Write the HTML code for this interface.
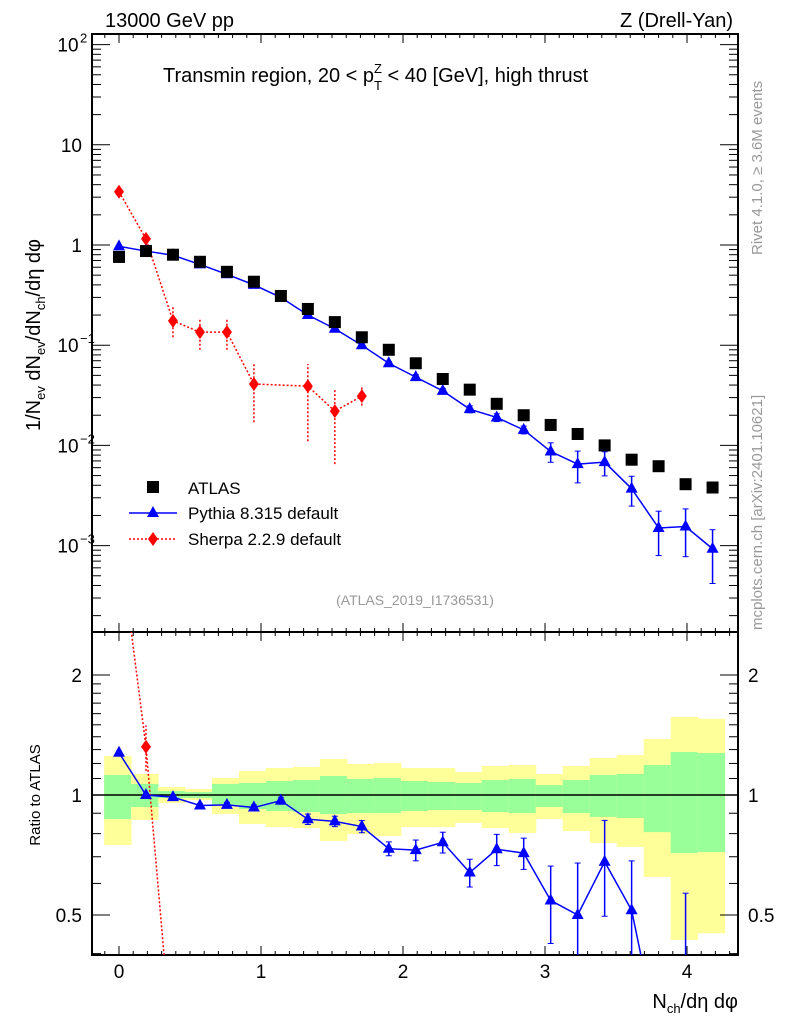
<!DOCTYPE html>
<html><head><meta charset="utf-8"><style>
html,body{margin:0;background:#fff;width:786px;height:1024px;overflow:hidden;position:relative}
svg{display:block;font-family:"Liberation Sans",sans-serif}
</style></head><body>
<svg id="c" width="786" height="1024" style="position:absolute;left:0;top:0" xmlns="http://www.w3.org/2000/svg"></svg>
<script>
const xs=[0,0.19,0.38,0.57,0.76,0.95,1.14,1.33,1.52,1.71,1.9,2.09,2.28,2.47,2.66,2.85,3.04,3.23,3.42,3.61,3.8,3.99,4.18];
const atlas=[0.76,0.87,0.80,0.68,0.54,0.43,0.31,0.23,0.17,0.12,0.09,0.066,0.046,0.036,0.026,0.020,0.016,0.013,0.010,0.0072,0.0062,0.0041,0.0038];
const pythia=[0.97,0.87,0.79,0.64,0.51,0.40,0.30,0.20,0.146,0.10,0.066,0.048,0.035,0.023,0.019,0.0143,0.0087,0.0065,0.0068,0.0037,0.0015,0.00155,0.00093];
const pythiaRelErr=[0.01,0.01,0.01,0.01,0.015,0.015,0.02,0.03,0.03,0.035,0.04,0.06,0.06,0.08,0.09,0.09,0.22,0.35,0.27,0.33,0.47,0.5,0.55];
const sherpaX=[0,0.19,0.38,0.57,0.76,0.95,1.33,1.52,1.71];
const sherpa=[3.4,1.15,0.175,0.135,0.135,0.041,0.039,0.022,0.031];
const sherpaLo=[3.2,1.0,0.12,0.09,0.09,0.017,0.011,0.0065,0.025];
const sherpaHi=[3.6,1.3,0.24,0.18,0.18,0.065,0.065,0.037,0.038];
const greenUp=[1.123,1.066,1.023,1.017,1.066,1.072,1.084,1.090,1.116,1.097,1.103,1.084,1.078,1.072,1.090,1.097,1.059,1.090,1.123,1.129,1.189,1.282,1.274];
const greenDn=[0.870,0.933,0.983,0.983,0.944,0.922,0.912,0.906,0.896,0.901,0.901,0.912,0.917,0.917,0.906,0.901,0.933,0.901,0.881,0.876,0.807,0.715,0.719];
const yelUp=[1.253,1.129,1.047,1.035,1.103,1.149,1.169,1.176,1.231,1.196,1.203,1.169,1.169,1.142,1.182,1.189,1.129,1.182,1.238,1.260,1.382,1.570,1.553];
const yelDn=[0.749,0.866,0.955,0.971,0.896,0.846,0.831,0.826,0.767,0.798,0.789,0.831,0.831,0.851,0.826,0.803,0.870,0.812,0.758,0.741,0.623,0.433,0.450];
const xTicks=[0,1,2,3,4];
const mainTicks=[-3,-2,-1,0,1,2];
const mainLabels=["10","10","10","1","10","10"];
const mainExp=["−3","−2","−1","","","2"];
const ratioTicks=[0.5,1,2];

const svg=document.getElementById('c');
const NS='http://www.w3.org/2000/svg';
function mk(t,a,p){const e=document.createElementNS(NS,t);for(const k in a)e.setAttribute(k,a[k]);(p||svg).appendChild(e);return e;}
const L=92,R=738,T=34,M=632,B=955;
const X=v=>119+v*142;
const Y=v=>245-Math.log10(v)*100.2;
const RY=v=>795-Math.log10(v)*398.6;
const clipM=mk('clipPath',{id:'cm'});mk('rect',{x:L,y:T,width:R-L,height:M-T},clipM);
const clipR=mk('clipPath',{id:'cr'});mk('rect',{x:L,y:M,width:R-L,height:B-M},clipR);

const gb=mk('g',{'clip-path':'url(#cr)'});

xs.forEach((x,i)=>{
 const x0=X(x-0.105),w=X(x+0.085)-x0+0.5;
 const y=mk('rect',{x:x0,y:RY(yelUp[i]),width:w,height:RY(yelDn[i])-RY(yelUp[i]),fill:'#ffff99'},gb);
 
 const g=mk('rect',{x:x0,y:RY(greenUp[i]),width:w,height:RY(greenDn[i])-RY(greenUp[i]),fill:'#99ff99'},gb);
 
});
mk('line',{x1:L,x2:R,y1:RY(1),y2:RY(1),stroke:'#000','stroke-width':1.5});

mk('rect',{x:L,y:T,width:R-L,height:M-T,fill:'none',stroke:'#000','stroke-width':2});
mk('rect',{x:L,y:M,width:R-L,height:B-M,fill:'none',stroke:'#000','stroke-width':2});

for(let k=-2;k<=43;k++){
 const v=k/10;const xx=X(v);if(xx<L||xx>R)continue;
 const maj=k%10==0;const len=maj?9:4;
 mk('line',{x1:xx,x2:xx,y1:B,y2:B-len,stroke:'#000'});
 mk('line',{x1:xx,x2:xx,y1:M,y2:M-len,stroke:'#000'});
 mk('line',{x1:xx,x2:xx,y1:M,y2:M+len,stroke:'#000'});
 mk('line',{x1:xx,x2:xx,y1:T,y2:T+len,stroke:'#000'});
}
xTicks.forEach(v=>{const t=mk('text',{x:X(v),y:978,'font-size':19,'text-anchor':'middle'});t.textContent=v;});

for(let d=-4;d<=2;d++){for(let m=1;m<10;m++){const v=m*Math.pow(10,d);const yy=Y(v);if(yy<T||yy>M)continue;const len=m==1?18:9;
 mk('line',{x1:L,x2:L+len,y1:yy,y2:yy,stroke:'#000'});mk('line',{x1:R,x2:R-len,y1:yy,y2:yy,stroke:'#000'});}}
mainTicks.forEach((d,i)=>{const t=mk('text',{x:mainExp[i]?68:82,y:Y(Math.pow(10,d))+7,'font-size':19,'text-anchor':mainExp[i]?'middle':'end'});t.textContent=mainLabels[i];
 if(mainExp[i]){const s=mk('text',{x:80,y:Y(Math.pow(10,d))-2,'font-size':13});s.textContent=mainExp[i];}});

[0.4,0.5,0.6,0.7,0.8,0.9,1,1.1,1.2,1.3,1.4,1.5,1.6,1.7,1.8,1.9,2].forEach(v=>{const yy=RY(v);if(yy>B)return;const maj=ratioTicks.includes(v);const len=maj?18:9;
 mk('line',{x1:L,x2:L+len,y1:yy,y2:yy,stroke:'#000'});mk('line',{x1:R,x2:R-len,y1:yy,y2:yy,stroke:'#000'});});
ratioTicks.forEach(v=>{const t=mk('text',{x:82,y:RY(v)+7,'font-size':19,'text-anchor':'end'});t.textContent=v;
 const t2=mk('text',{x:748,y:RY(v)+7,'font-size':19});t2.textContent=v;});

const gm=mk('g',{'clip-path':'url(#cm)'});
let sp=sherpaX.map((x,i)=>X(x)+','+Y(sherpa[i])).join(' ');
mk('polyline',{points:sp,fill:'none',stroke:'#f00','stroke-width':1.5,'stroke-dasharray':'2,2'},gm);
sherpaX.forEach((x,i)=>{mk('line',{x1:X(x),x2:X(x),y1:Y(sherpaLo[i]),y2:Y(sherpaHi[i]),stroke:'#f00','stroke-dasharray':'2,2','stroke-width':1.5},gm);
 const d=mk('polygon',{points:`${X(x)},${Y(sherpa[i])-7} ${X(x)+5},${Y(sherpa[i])} ${X(x)},${Y(sherpa[i])+7} ${X(x)-5},${Y(sherpa[i])}`,fill:'#f00'},gm);
 });
mk('polyline',{points:xs.map((x,i)=>X(x)+','+Y(pythia[i])).join(' '),fill:'none',stroke:'#00f','stroke-width':1.5},gm);
xs.forEach((x,i)=>{const lo=pythia[i]*(1-pythiaRelErr[i]),hi=pythia[i]*(1+pythiaRelErr[i]);
 mk('line',{x1:X(x),x2:X(x),y1:Y(lo),y2:Y(hi),stroke:'#00f','stroke-width':1.5},gm);
 mk('line',{x1:X(x)-3,x2:X(x)+3,y1:Y(lo),y2:Y(lo),stroke:'#00f'},gm);mk('line',{x1:X(x)-3,x2:X(x)+3,y1:Y(hi),y2:Y(hi),stroke:'#00f'},gm);
 const yy=Y(pythia[i]);const t=mk('polygon',{points:`${X(x)},${yy-7} ${X(x)+6},${yy+4} ${X(x)-6},${yy+4}`,fill:'#00f'},gm);
 });
xs.forEach((x,i)=>{const r=mk('rect',{x:X(x)-6,y:Y(atlas[i])-6,width:12,height:12,fill:'#000'},gm);
 });

const gr=mk('g',{'clip-path':'url(#cr)'});
mk('polyline',{points:sherpaX.slice(0,3).map((x,i)=>X(x)+','+RY(sherpa[i]/atlas[i])).join(' '),fill:'none',stroke:'#f00','stroke-width':1.5,'stroke-dasharray':'2,2'},gr);
sherpaX.forEach((x,i)=>{const a=atlas[xs.indexOf(x)];const yy=RY(sherpa[i]/a);
 mk('line',{x1:X(x),x2:X(x),y1:RY(sherpaLo[i]/a),y2:RY(sherpaHi[i]/a),stroke:'#f00','stroke-dasharray':'2,2','stroke-width':1.5},gr);
 const d=mk('polygon',{points:`${X(x)},${yy-7} ${X(x)+5},${yy} ${X(x)},${yy+7} ${X(x)-5},${yy}`,fill:'#f00'},gr);
 });
mk('polyline',{points:xs.map((x,i)=>X(x)+','+RY(pythia[i]/atlas[i])).join(' '),fill:'none',stroke:'#00f','stroke-width':1.5},gr);
xs.forEach((x,i)=>{const r=pythia[i]/atlas[i];const lo=r*(1-pythiaRelErr[i]),hi=r*(1+pythiaRelErr[i]);
 mk('line',{x1:X(x),x2:X(x),y1:RY(lo),y2:RY(hi),stroke:'#00f','stroke-width':1.5},gr);
 mk('line',{x1:X(x)-3,x2:X(x)+3,y1:RY(lo),y2:RY(lo),stroke:'#00f'},gr);mk('line',{x1:X(x)-3,x2:X(x)+3,y1:RY(hi),y2:RY(hi),stroke:'#00f'},gr);
 const yy=RY(r);const t=mk('polygon',{points:`${X(x)},${yy-7} ${X(x)+6},${yy+4} ${X(x)-6},${yy+4}`,fill:'#00f'},gr);
 });
</script>
<svg width="786" height="1024" style="position:absolute;left:0;top:0" xmlns="http://www.w3.org/2000/svg">
<g font-family="Liberation Sans, sans-serif">
<text x="105" y="27" font-size="20">13000 GeV pp</text>
<text x="733" y="27" font-size="20" text-anchor="end">Z (Drell-Yan)</text>
<text x="163" y="82" font-size="20">Transmin region, 20 &lt; p<tspan font-size="13" dy="8">T</tspan><tspan font-size="13" dx="-8" dy="-17">Z</tspan><tspan dy="9"> &lt; 40 [GeV], high thrust</tspan></text>
<text transform="translate(40,335) rotate(-90)" font-size="20" text-anchor="middle">1/N<tspan font-size="13" dy="5">ev</tspan><tspan dy="-5"> dN</tspan><tspan font-size="13" dy="5">ev</tspan><tspan dy="-5">/dN</tspan><tspan font-size="13" dy="5">ch</tspan><tspan dy="-5">/dη dφ</tspan></text>
<text transform="translate(40,795) rotate(-90)" font-size="15" text-anchor="middle">Ratio to ATLAS</text>
<text x="738" y="1008" font-size="20" text-anchor="end">N<tspan font-size="13" dy="5">ch</tspan><tspan dy="-5">/dη dφ</tspan></text>
<text transform="translate(762,255) rotate(-90)" font-size="15" fill="#999" text-anchor="start">Rivet 4.1.0, ≥ 3.6M events</text>
<text transform="translate(762,630) rotate(-90)" font-size="15" fill="#999">mcplots.cern.ch [arXiv:2401.10621]</text>
<text x="415" y="605" font-size="14" fill="#999" text-anchor="middle">(ATLAS_2019_I1736531)</text>
<g>
<rect x="147" y="481" width="12" height="12" fill="#000"/>
<text x="188" y="494" font-size="17">ATLAS</text>
<line x1="129" x2="177" y1="513" y2="513" stroke="#00f" stroke-width="1.5"/>
<polygon points="153,506 159,517 147,517" fill="#00f"/>
<text x="188" y="519" font-size="17">Pythia 8.315 default</text>
<line x1="129" x2="177" y1="539" y2="539" stroke="#f00" stroke-width="1.5" stroke-dasharray="2,2"/>
<polygon points="153,532 158,539 153,546 148,539" fill="#f00"/>
<text x="188" y="545" font-size="17">Sherpa 2.2.9 default</text>
</g>
</g></svg>
</body></html>
